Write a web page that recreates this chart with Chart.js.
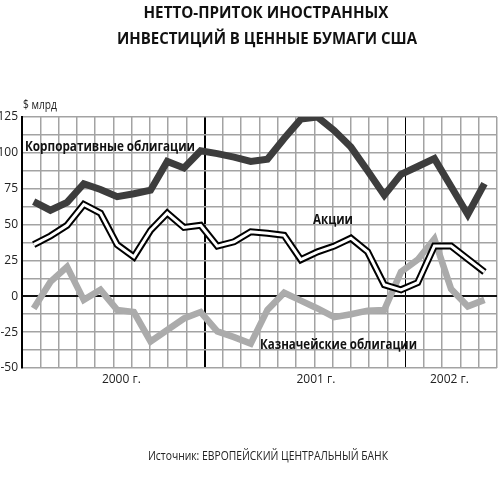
<!DOCTYPE html>
<html>
<head>
<meta charset="utf-8">
<script src="https://cdn.jsdelivr.net/npm/chart.js@4/dist/chart.umd.min.js"></script>
<style>
  body { margin: 0; background: #fff; }
  canvas { display: block; }
</style>
</head>
<body>
<canvas id="chart" width="500" height="481"></canvas>
<script>
// monthly points, Jan 2000 .. Apr 2002 (index 0..27)
const months = Array.from({ length: 28 }, (_, i) => i);

const corporateBonds = [66, 60, 65.5, 78.5, 74.5, 69.5, 71.5, 74, 94, 89.5, 101.5, 99.5, 97, 94,
    95.5, 110, 123.5, 125, 115.5, 104, 87.5, 70.5, 85, 90.5, 96, 76.5, 57, 78.5];
const stocks = [36, 42, 49.5, 64, 58, 36, 27.5, 46, 58, 48, 49.5, 35, 38, 45,
    44, 42.5, 25.5, 31, 35, 40.5, 31, 8, 4.5, 9.5, 35, 35, 26, 17];
const treasuries = [-8.5, 10, 20.5, -2.5, 4.5, -9.5, -11, -31.5, -23.5, -15.5, -11, -24.5, -28.5, -33,
    -9.5, 2.5, -3, -8.5, -14.5, -12.5, -10, -9.5, 17, 25.5, 40, 5, -7, -2.5];

const yTicks = [-50, -37.5, -25, -12.5, 0, 12.5, 25, 37.5, 50, 62.5, 75, 87.5, 100, 112.5, 125];
const yearLabels = ['2000 г.', '2001 г.', '2002 г.'];
const yearLabelPos = [5.25, 16.9, 24.9];

const seriesNames = ['Корпоративные облигации', 'Акции', 'Казначейские облигации'];
const titleLines = ['НЕТТО-ПРИТОК ИНОСТРАННЫХ', 'ИНВЕСТИЦИЙ В ЦЕННЫЕ БУМАГИ США'];
const unitLabel = '$ млрд';
const sourceText = 'Источник: ЕВРОПЕЙСКИЙ ЦЕНТРАЛЬНЫЙ БАНК';

const X_MIN = -0.7, X_MAX = 27.75;
const GRID_COLS = 26;
const GRID = '#a3a3a3';
const NARROW = "'Liberation Sans Narrow', 'Open Sans', sans-serif";

function toPoints(values) {
    return values.map((v, i) => ({ x: months[i], y: v }));
}

// draw text squeezed/stretched to a given width
function drawFitted(ctx, text, x, y, width, font, color, align) {
    ctx.save();
    ctx.font = font;
    ctx.fillStyle = color;
    ctx.textBaseline = 'middle';
    ctx.textAlign = 'left';
    const w = ctx.measureText(text).width;
    const left = align === 'center' ? x - width / 2 : x;
    ctx.translate(left, y);
    ctx.scale(width / w, 1);
    ctx.fillText(text, 0, 0);
    ctx.restore();
}

const textPlugin = {
    id: 'texts',
    afterDatasetsDraw(chart) {
        const ctx = chart.ctx;
        drawFitted(ctx, seriesNames[0], 25, 147, 170, "bold 15px 'Open Sans'", '#111', 'left');
        drawFitted(ctx, seriesNames[1], 313, 220, 40, "bold 15px 'Open Sans'", '#111', 'left');
        drawFitted(ctx, seriesNames[2], 260, 345, 157, "bold 15px 'Open Sans'", '#111', 'left');
    },
    afterDraw(chart) {
        const ctx = chart.ctx;
        drawFitted(ctx, titleLines[0], 266, 13.5, 245, "bold 16px 'Open Sans'", '#111', 'center');
        drawFitted(ctx, titleLines[1], 267, 39.5, 300, "bold 16px 'Open Sans'", '#111', 'center');
        drawFitted(ctx, unitLabel, 23, 106, 34, "12px " + NARROW, '#222', 'left');
        drawFitted(ctx, sourceText, 268, 457, 240, "12px " + NARROW, '#222', 'center');
    }
};

new Chart(document.getElementById('chart'), {
    type: 'line',
    data: {
        datasets: [
            {
                data: toPoints(stocks),
                borderColor: '#ffffff',
                borderWidth: 3,
                order: 0
            },
            {
                data: toPoints(stocks),
                borderColor: '#000000',
                borderWidth: 7,
                order: 1
            },
            {
                data: toPoints(corporateBonds),
                borderColor: '#3d3d3d',
                borderWidth: 7,
                order: 2
            },
            {
                data: toPoints(treasuries),
                borderColor: '#ababab',
                borderWidth: 6.5,
                order: 3
            }
        ]
    },
    options: {
        responsive: false,
        animation: false,
        devicePixelRatio: 1,
        layout: { padding: { top: 117, right: 3, bottom: 93, left: 0 } },
        elements: {
            point: { radius: 0 },
            line: { tension: 0, borderJoinStyle: 'miter', borderCapStyle: 'butt', fill: false }
        },
        plugins: {
            legend: { display: false },
            tooltip: { enabled: false }
        },
        scales: {
            x: {
                type: 'linear',
                min: X_MIN,
                max: X_MAX,
                afterBuildTicks: scale => {
                    const step = (X_MAX - X_MIN) / GRID_COLS;
                    scale.ticks = Array.from({ length: GRID_COLS + 1 }, (_, k) => ({ value: X_MIN + k * step }));
                },
                afterFit: scale => { scale.height = 0; },
                ticks: { display: false },
                border: { display: false },
                grid: {
                    drawTicks: false,
                    color: ctx => (ctx.index === 10 || ctx.index === 21) ? '#000' : (ctx.index === 0 ? 'rgba(0,0,0,0)' : GRID),
                    lineWidth: ctx => ctx.index === 10 ? 2 : (ctx.index === 21 ? 1 : 1.5)
                }
            },
            x2: {
                type: 'linear',
                position: 'bottom',
                min: X_MIN,
                max: X_MAX,
                afterBuildTicks: scale => {
                    scale.ticks = yearLabelPos.map(v => ({ value: v }));
                },
                afterFit: scale => { scale.height = 20; },
                grid: { display: false, drawTicks: false },
                border: { display: false },
                ticks: {
                    autoSkip: false,
                    maxRotation: 0,
                    padding: 4,
                    color: '#222',
                    font: { family: NARROW, size: 12 },
                    callback: (value, index) => yearLabels[index]
                }
            },
            y: {
                min: -50,
                max: 125,
                afterBuildTicks: scale => {
                    scale.ticks = yTicks.map(v => ({ value: v }));
                },
                afterFit: scale => { scale.width = 22; },
                ticks: {
                    autoSkip: false,
                    padding: 4,
                    color: '#222',
                    font: { family: NARROW, size: 12 },
                    callback: v => (v % 25 === 0 ? String(v) : '')
                },
                border: { color: '#000', width: 2 },
                grid: {
                    drawTicks: false,
                    color: ctx => ctx.tick && ctx.tick.value === 0 ? '#111' : GRID,
                    lineWidth: ctx => ctx.tick && ctx.tick.value === 0 ? 2 : 1.5
                }
            }
        }
    },
    plugins: [textPlugin]
});
</script>
</body>
</html>
